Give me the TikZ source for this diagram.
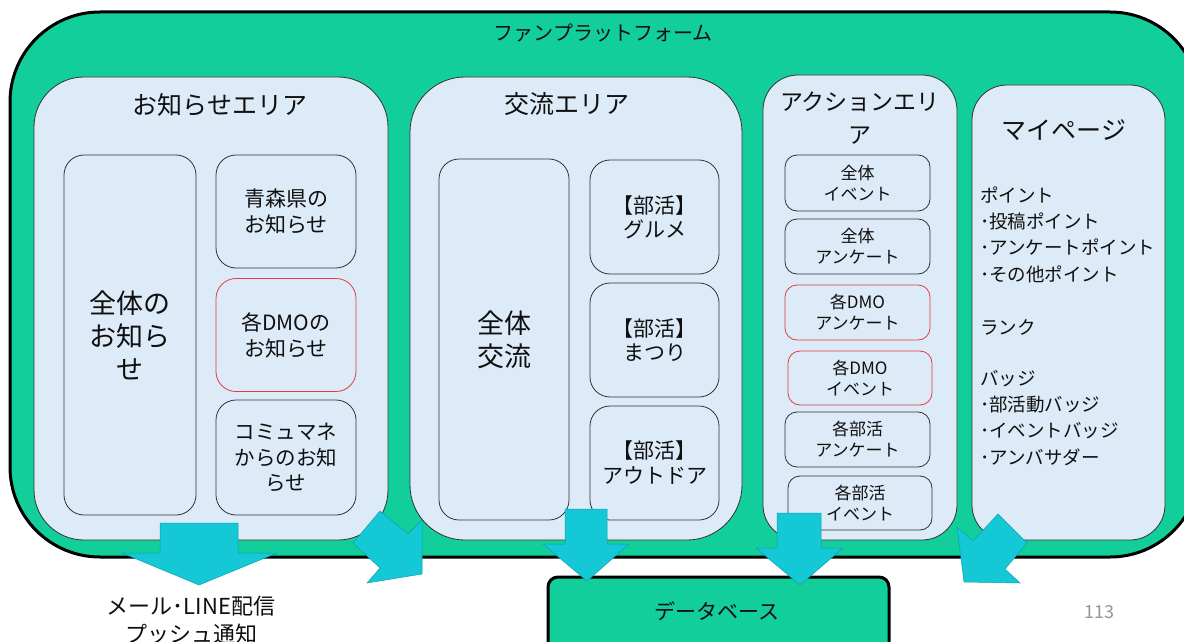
\documentclass[tikz,border=0pt]{standalone}
\usepackage{fontspec}
\setmainfont{Noto Sans CJK JP}
\definecolor{plat}{RGB}{18,206,154}
\definecolor{areabg}{RGB}{220,235,247}
\definecolor{arr}{RGB}{20,200,214}
\definecolor{arrline}{RGB}{14,160,175}
\definecolor{redb}{RGB}{225,60,60}
\definecolor{boxline}{RGB}{50,50,50}
\definecolor{txt}{RGB}{15,15,15}
\newcommand{\fsz}[2]{\fontsize{#1}{#2}\selectfont}
\tikzset{
  areabox/.style={draw=boxline, line width=0.8pt, fill=areabg, inner sep=0pt},
  subbox/.style={draw=boxline, line width=0.8pt, rounded corners=20pt, align=center, inner sep=0pt, text=txt, font=\fsz{21}{26}},
  actbox/.style={draw=boxline, line width=0.8pt, rounded corners=12pt, align=center, inner sep=0pt, text=txt, font=\fsz{17}{21}},
  redframe/.style={draw=redb},
  areatitle/.style={text=txt, font=\fsz{25}{33}, align=center, inner sep=0pt},
  mpline/.style={anchor=west, text=txt, font=\fsz{18.5}{22}, inner sep=0pt},
  blockarrow/.style={fill=arr, draw=arrline, line width=0.5pt, line join=miter},
}
\begin{document}
\begin{tikzpicture}[x=1pt, y=-1pt]
\clip (0,0) rectangle (1184,642);
\fill[white] (0,0) rectangle (1184,642);
% platform
\node[draw=black, line width=3pt, fill=plat, rounded corners=90pt, minimum width=1190pt, minimum height=545pt, inner sep=0pt] (platform) at (605,284.5) {};
\node[text=txt, font=\fsz{20}{24}, inner sep=0pt] (platformT) at (603,33) {ファンプラットフォーム};
% areas
\node[areabox, rounded corners=50pt, minimum width=354pt, minimum height=463pt] (oshirase) at (211,308.5) {};
\node[areabox, rounded corners=55pt, minimum width=332pt, minimum height=463pt] (koryu) at (576,308.5) {};
\node[areabox, rounded corners=35pt, minimum width=194pt, minimum height=465pt] (action) at (860,307.5) {};
\node[areabox, rounded corners=35pt, minimum width=193pt, minimum height=455pt] (mypage) at (1068.5,312.5) {};
\node[areatitle] (oshiraseT) at (220,105) {お知らせエリア};
\node[areatitle] (koryuT) at (567,104) {交流エリア};
\node[areatitle, font=\fsz{23}{33}] (actionT) at (860,118) {アクションエリ\\ア};
\node[areatitle] (mypageT) at (1064,130) {マイページ};
% oshirase boxes
\node[subbox, font=\fsz{27}{33}, minimum width=132pt, minimum height=360pt] (zentaiO) at (130,335) {全体の\\お知ら\\せ};
\node[subbox, minimum width=140pt, minimum height=113pt] (aomori) at (286,211.5) {青森県の\\お知らせ};
\node[subbox, redframe, minimum width=140pt, minimum height=113pt] (dmoO) at (286,335) {各DMOの\\お知らせ};
\node[subbox, font=\fsz{20.5}{25.5}, minimum width=140pt, minimum height=115pt] (commu) at (286,457.5) {コミュマネ\\からのお知\\らせ};
% koryu boxes
\node[subbox, font=\fsz{27}{33}, minimum width=130pt, minimum height=361pt] (zentaiK) at (504,339.5) {全体\\交流};
\node[subbox, font=\fsz{21}{24}, minimum width=129pt, minimum height=114pt] (gourmet) at (654.5,217) {【部活】\\グルメ};
\node[subbox, font=\fsz{21}{24}, minimum width=129pt, minimum height=114pt] (matsuri) at (654.5,340) {【部活】\\まつり};
\node[subbox, font=\fsz{21}{25}, minimum width=129pt, minimum height=114pt] (outdoor) at (654.5,463) {【部活】\\アウトドア};
% action boxes
\node[actbox, minimum width=145pt, minimum height=56pt] (zEvent) at (857.5,183) {全体\\イベント};
\node[actbox, minimum width=145pt, minimum height=55pt] (zEnq) at (857.5,246.5) {全体\\アンケート};
\node[actbox, redframe, minimum width=145pt, minimum height=55pt] (dEnq) at (857.5,312.5) {各DMO\\アンケート};
\node[actbox, redframe, minimum width=144pt, minimum height=54pt] (dEvent) at (860,378) {各DMO\\イベント};
\node[actbox, minimum width=145pt, minimum height=55pt] (bEnq) at (857.5,439.5) {各部活\\アンケート};
\node[actbox, minimum width=144pt, minimum height=54pt] (bEvent) at (860,503) {各部活\\イベント};
% mypage text
\node[mpline] (mp1) at (980,195) {ポイント};
\node[mpline] (mp2) at (980,221) {･投稿ポイント};
\node[mpline] (mp3) at (980,247.5) {･アンケートポイント};
\node[mpline] (mp4) at (980,274) {･その他ポイント};
\node[mpline] (mp5) at (980,327) {ランク};
\node[mpline] (mp6) at (980,378.5) {バッジ};
\node[mpline] (mp7) at (980,405) {･部活動バッジ};
\node[mpline] (mp8) at (980,431) {･イベントバッジ};
\node[mpline] (mp9) at (980,457.5) {･アンバサダー};
% database
\node[draw=black, line width=3pt, fill=plat, rounded corners=10pt, minimum width=341pt, minimum height=100pt, inner sep=0pt] (db) at (718.5,627) {};
\node[text=txt, font=\fsz{21}{25}, inner sep=0pt] (dbT) at (717,611) {データベース};
% notify text
\node[text=txt, font=\fsz{22}{28}, align=center, inner sep=0pt] (notify) at (191,620) {メール･LINE配信\\プッシュ通知};
\node[text={rgb,255:red,150;green,150;blue,150}, font=\fsz{18}{20}, inner sep=0pt] (pageno) at (1099,612) {113};
% arrows
\draw[blockarrow] (160,523) -- (238,523) -- (238,553) -- (277,553) -- (199,585) -- (122,553) -- (160,553) -- cycle;
\draw[blockarrow] (380,511) -- (408,534) -- (422,520) -- (422,574) -- (367,583) -- (380,568) -- (353,543) -- cycle;
\draw[blockarrow] (565,509) -- (607,509) -- (607,544) -- (629,544) -- (587,581) -- (543,544) -- (565,544) -- cycle;
\draw[blockarrow] (777,513) -- (821,513) -- (821,548) -- (843,548) -- (800,585) -- (756,548) -- (777,548) -- cycle;
\draw[blockarrow] (957,527) -- (973,541) -- (998,514) -- (1027,543) -- (1005,569) -- (1020,583) -- (964,582) -- cycle;
\end{tikzpicture}
\end{document}
